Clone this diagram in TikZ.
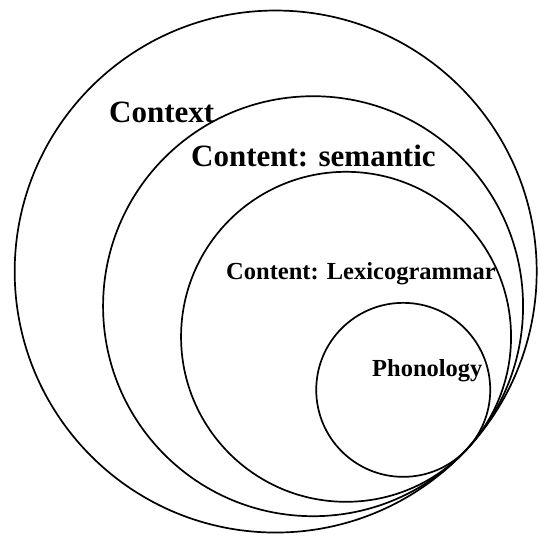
\documentclass[tikz,border=0pt]{standalone}
\usepackage{fontspec}
\setmainfont{Liberation Serif}
\usetikzlibrary{calc}
\begin{document}
\begin{tikzpicture}[x=1pt,y=-1pt,
  ring/.style={draw=black,line width=1.7pt},
  biglabel/.style={anchor=base west,inner sep=0pt,font=\bfseries\fontsize{31}{31}\selectfont},
  smalllabel/.style={anchor=base west,inner sep=0pt,font=\bfseries\fontsize{24.5}{24.5}\selectfont}]
\useasboundingbox (0,0) rectangle (540,536);
% common point of tangency and direction towards it
\coordinate (T) at (467,449);
\def\ux{0.733}\def\uy{0.680}
% nested circles, all touching at T
\foreach \r/\nm in {261/context,210/semantic,165/lexico,87/phono}{
  \coordinate (\nm) at ($(T)-(\r*\ux,\r*\uy)$);
  \draw[ring] (\nm) circle[radius=\r pt];
}
\node[biglabel] (lcontext) at (109,122.5) {Context};
\node[biglabel] (lsemantic) at (191,166) {Content: semantic};
\node[smalllabel] (llexico) at (226,279) {Content: Lexicogrammar};
\node[smalllabel] (lphono) at (372,376) {Phonology};
\end{tikzpicture}
\end{document}
